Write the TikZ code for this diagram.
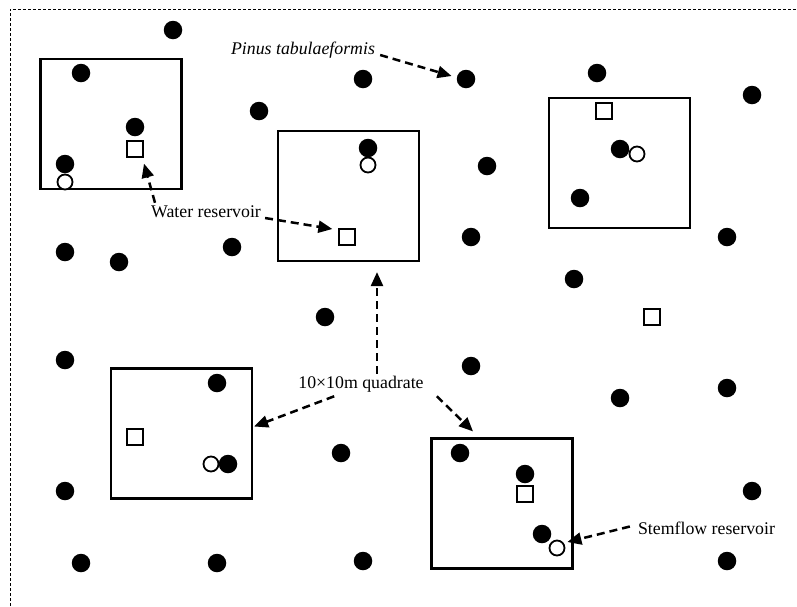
\documentclass[tikz,border=0pt]{standalone}
\usepackage{fontspec}
\setmainfont{Liberation Serif}
\usetikzlibrary{arrows.meta}
\begin{document}
\begin{tikzpicture}[x=1pt,y=-1pt,
 tree/.style={circle,fill=black,inner sep=0,minimum size=18.5pt},
 stem/.style={circle,draw=black,fill=white,line width=1.8pt,inner sep=0,minimum size=15pt},
 res/.style={rectangle,draw=black,fill=white,line width=1.8pt,inner sep=0,minimum size=15.5pt},
 quad/.style={rectangle,draw=black,line width=2.2pt,inner sep=0,minimum width=141pt,minimum height=130pt},
 lbl/.style={inner sep=0,font=\fontsize{17.8}{20}\selectfont},
 arr/.style={dash pattern=on 8pt off 5pt,line width=2.5pt,-{Triangle[length=14pt,width=12pt]}}
]
\useasboundingbox (0,0) rectangle (797,606);
\draw[dash pattern=on 3pt off 2pt, line width=1pt] (10,606) -- (10,9) -- (797,9);

% quadrates
\node[quad] (q1) at (111,124) {};
\node[quad] (q2) at (348.5,196) {};
\node[quad] (q3) at (619.5,163) {};
\node[quad] (q4) at (181.5,433.5) {};
\node[quad] (q5) at (502,503.5) {};

% trees
\foreach \n/\p in {t1/{(173,30)},t2/{(81,73)},t3/{(135,127)},t4/{(65,164)},t5/{(259,111)},
  t6/{(363,79)},t7/{(368,148)},t8/{(65,252)},t9/{(119,262)},t10/{(232,247)},
  t11/{(466,79)},t12/{(597,73)},t13/{(752,95)},t14/{(620,149)},t15/{(580,198)},
  t16/{(487,166)},t17/{(471,237)},t18/{(727,237)},t19/{(574,279)},t20/{(325,317)},
  t21/{(65,360)},t22/{(217,383)},t24/{(65,491)},t25/{(81,563)},
  t26/{(217,563)},t27/{(363,561)},t28/{(341,453)},t29/{(471,366)},t30/{(620,398)},
  t31/{(727,388)},t32/{(460,453)},t33/{(525,474)},t34/{(542,534)},t35/{(752,491)},
  t36/{(727,561)}}
  \node[tree] (\n) at \p {};

% stemflow reservoirs
\node[stem] (s1) at (65,182) {};
\node[stem] (s2) at (368,165) {};
\node[stem] (s3) at (637,154) {};
\node[stem] (s4) at (211,464) {};
\node[tree] (t23) at (228,464) {};
\node[stem] (s5) at (557,548) {};

% water reservoirs
\node[res] (r1) at (135,149) {};
\node[res] (r2) at (347,237) {};
\node[res] (r3) at (604,111) {};
\node[res] (r4) at (135,437) {};
\node[res] (r5) at (525,494) {};
\node[res] (r6) at (652,317) {};

% labels
\node[lbl] (pinus) at (303,50) {\itshape Pinus tabulaeformis};
\node[lbl] (wr) at (206,212) {Water reservoir};
\node[lbl] (qt) at (361,384) {10×10m quadrate};
\node[lbl] (sf) at (706.5,528.5) {Stemflow reservoir};

% arrows
\draw[arr] ([shift={(5,5)}]pinus.east) -- ([shift={(-5,-3)}]t11.west);
\draw[arr] ([shift={(-51,-3)}]wr.north) -- ([shift={(9,6)}]r1.south);
\draw[arr] ([shift={(4,6)}]wr.east) -- ([shift={(-6,-8)}]r2.west);
\draw[arr] ([shift={(16,-2)}]qt.north) -- ([shift={(28.5,10)}]q2.south);
\draw[arr] ([shift={(36,4)}]qt.south west) -- ([shift={(1,-7)}]q4.east);
\draw[arr] ([shift={(13,4)}]qt.south east) -- ([shift={(-29,-6)}]q5.north);
\draw[arr] ([shift={(-8,-2)}]sf.west) -- ([shift={(2,-6)}]s5.east);
\end{tikzpicture}
\end{document}
